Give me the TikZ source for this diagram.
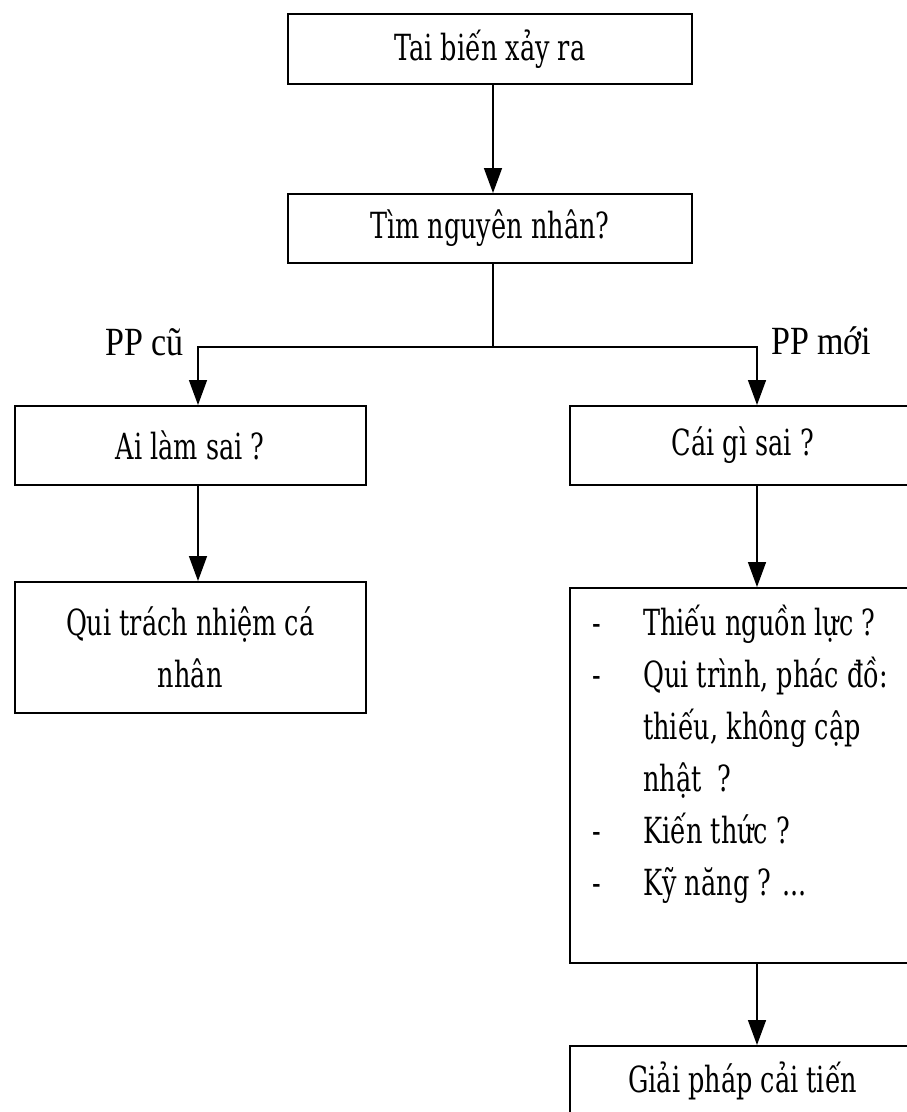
\documentclass[tikz,border=0pt]{standalone}
\usepackage{fontspec}
\setmainfont{DejaVu Serif}[FakeStretch=0.71]
\newfontfamily\ppfont{Liberation Serif}[FakeStretch=0.85]
\usetikzlibrary{arrows.meta}
\begin{document}
\begin{tikzpicture}[x=1pt,y=-1pt,
  box/.style={draw=black,line width=1.5pt,rectangle,inner sep=0pt,anchor=north west,
    font=\fontsize{36}{52}\selectfont,align=center},
  lbl/.style={inner sep=0pt,font=\fontsize{36}{52}\selectfont},
  pp/.style={inner sep=0pt,font=\ppfont\fontsize{40}{52}\selectfont},
  conn/.style={line width=1.5pt},
  arr/.style={line width=1.5pt,-{Triangle[width=18pt,length=25pt]}}]
\useasboundingbox (0,0) rectangle (906,1112);
\node[box,minimum width=404pt,minimum height=70pt] (b1) at (287,13) {Tai biến xảy ra};
\node[box,minimum width=404pt,minimum height=69pt] (b2) at (287,193) {Tìm nguyên nhân?};
\node[box,minimum width=351pt,minimum height=79pt] (b3) at (14,405) {Ai làm sai ?};
\node[box,minimum width=351pt,minimum height=131pt] (b4) at (14,581) {Qui trách nhiệm cá\\nhân};
\node[box,minimum width=346pt,minimum height=79pt] (b5) at (569,405) {Cái gì sai ?};
\node[box,minimum width=346pt,minimum height=375pt] (b6) at (569,587) {};
\node[box,minimum width=346pt,minimum height=70pt] (b7) at (569,1045) {Giải pháp cải tiến};
\node[lbl,anchor=base west] (l6) at (592,635) {\begin{tabular}[t]{@{}p{51pt}@{}l@{}}
- & Thiếu nguồn lực ?\\
- & Qui trình, phác đồ:\\
  & thiếu, không cập\\
  & nhật\ \ ?\\
- & Kiến thức ?\\
- & Kỹ năng ? ...
\end{tabular}};
\node[pp,anchor=base east] (pcu) at (184,355) {PP cũ};
\node[pp,anchor=base west] (pmoi) at (771,354) {PP mới};
\coordinate (split) at (493,347);
\coordinate (cl) at (198,347);
\coordinate (cr) at (757,347);
\draw[arr] (split |- b1.south) -- (split |- b2.north);
\draw[conn] (split |- b2.south) -- (split);
\draw[arr] (split) -- (cl) -- (cl |- b3.north);
\draw[arr] (split) -- (cr) -- (cr |- b5.north);
\draw[arr] (cl |- b3.south) -- (cl |- b4.north);
\draw[arr] (cr |- b5.south) -- (cr |- b6.north);
\draw[arr] (cr |- b6.south) -- (cr |- b7.north);
\end{tikzpicture}
\end{document}
